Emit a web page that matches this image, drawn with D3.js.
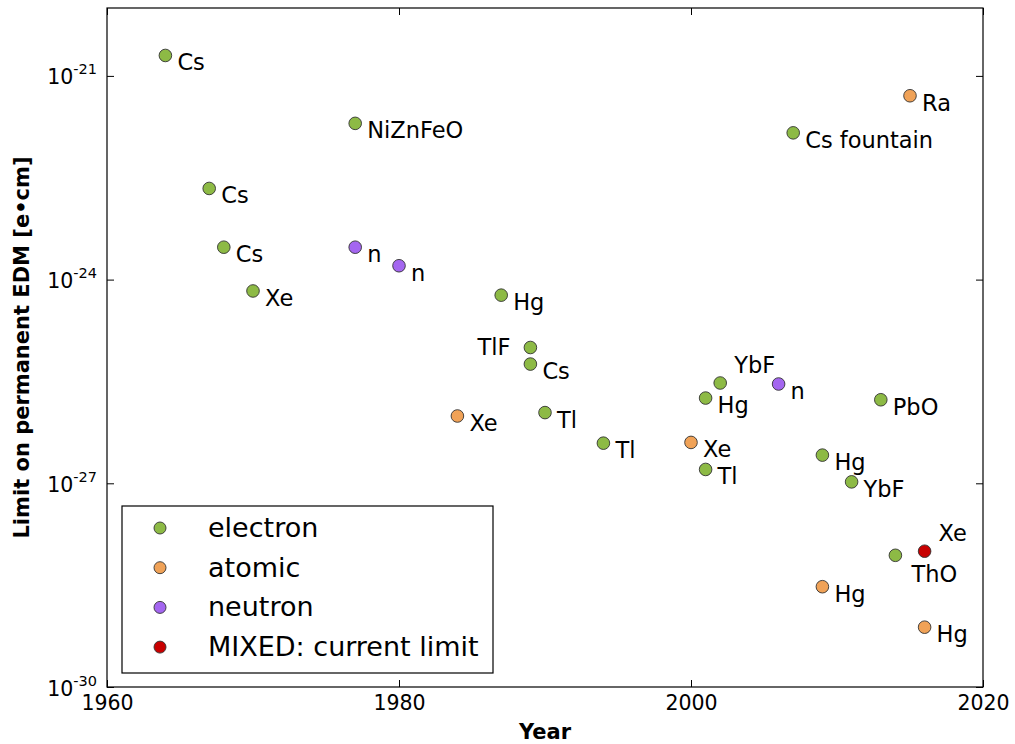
<!DOCTYPE html>
<html>
<head>
<meta charset="utf-8">
<script src="https://cdn.jsdelivr.net/npm/d3@7"></script>
<style>
  body { margin: 0; background: #fff; }
  text { font-family: "DejaVu Sans", sans-serif; fill: #000; }
</style>
</head>
<body>
<div class="chart"></div>
<script>
// Data: year, EDM limit [e*cm], label
const electron = [
  [1964, 2.0e-21, "Cs"],
  [1967, 2.2e-23, "Cs"],
  [1968, 3.0e-24, "Cs"],
  [1970, 6.8e-25, "Xe"],
  [1977, 2.0e-22, "NiZnFeO"],
  [1987, 5.9e-25, "Hg"],
  [1989, 1.0e-25, "TlF"],
  [1989, 5.7e-26, "Cs"],
  [1990, 1.1e-26, "Tl"],
  [1994, 3.9e-27, "Tl"],
  [2001, 1.8e-26, "Hg"],
  [2001, 1.6e-27, "Tl"],
  [2002, 3.0e-26, "YbF"],
  [2007, 1.45e-22, "Cs fountain"],
  [2009, 2.6e-27, "Hg"],
  [2011, 1.05e-27, "YbF"],
  [2013, 1.7e-26, "PbO"],
  [2014, 8.7e-29, "ThO"]
];
const atomic = [
  [1984, 9.8e-27, "Xe"],
  [2000, 4.0e-27, "Xe"],
  [2009, 3.0e-29, "Hg"],
  [2015, 5.1e-22, "Ra"],
  [2016, 7.6e-30, "Hg"]
];
const neutron = [
  [1977, 3.0e-24, "n"],
  [1980, 1.6e-24, "n"],
  [2006, 2.9e-26, "n"]
];
const mixed = [
  [2016, 1.0e-28, "Xe"]
];
const seriesNames = ["electron", "atomic", "neutron", "MIXED: current limit"];
const xTicks = [1960, 1980, 2000, 2020];
const yTickExps = [-21, -24, -27, -30];

// Styling
const colors = ["#8dba45", "#f0a257", "#a466f0", "#c80000"];
const series = [electron, atomic, neutron, mixed];

// label placement overrides, keyed "series:index"
const placement = {
  "0:6": "left",   // TlF
  "0:12": "above", // YbF 2002
  "0:17": "below", // ThO
  "3:0": "above"   // Xe current limit
};

const w = 1015;
const h = 744;
const margin = { top: 8, right: 32, bottom: 57, left: 107 };

const svg = d3
  .select(".chart")
  .append("svg")
  .attr("width", w)
  .attr("height", h);

// Scales
const xScale = d3
  .scaleLinear()
  .domain([1960, 2020])
  .range([margin.left, w - margin.right]);

const yScale = d3
  .scaleLog()
  .domain([1e-30, 1e-20])
  .range([h - margin.bottom, margin.top]);

const tick = 7;

// Axes (ticks point inward, mirrored on all sides)
const xAxis = svg
  .append("g")
  .attr("transform", `translate(0, ${h - margin.bottom})`)
  .call(
    d3.axisBottom(xScale)
      .tickValues(xTicks)
      .tickSizeInner(-tick)
      .tickSizeOuter(0)
      .tickPadding(8)
      .tickFormat(d3.format("d"))
  );
xAxis.selectAll("text").style("font-size", "20.5px").attr("font-family", null);

svg
  .append("g")
  .attr("transform", `translate(0, ${margin.top})`)
  .call(d3.axisTop(xScale).tickValues(xTicks).tickSizeInner(-tick).tickSizeOuter(0).tickFormat(""));

const yTickVals = yTickExps.map((e) => Math.pow(10, e));
const yAxis = svg
  .append("g")
  .attr("transform", `translate(${margin.left}, 0)`)
  .call(
    d3.axisLeft(yScale)
      .tickValues(yTickVals)
      .tickSizeInner(-tick)
      .tickSizeOuter(0)
      .tickPadding(10)
      .tickFormat("")
  );

yAxis
  .selectAll(".tick text")
  .attr("dy", "8px")
  .style("font-size", "20.5px")
  .attr("font-family", null)
  .each(function (d, i) {
    const t = d3.select(this);
    t.append("tspan").text("10");
    t.append("tspan")
      .attr("dy", "-10px")
      .style("font-size", "14.5px")
      .text(yTickExps[i]);
  });

svg
  .append("g")
  .attr("transform", `translate(${w - margin.right}, 0)`)
  .call(d3.axisRight(yScale).tickValues(yTickVals).tickSizeInner(-tick).tickSizeOuter(0).tickFormat(""));

svg.selectAll(".domain").remove();
svg.selectAll(".tick line").attr("stroke", "#000").attr("stroke-width", 1);

// Frame
svg
  .append("rect")
  .attr("x", margin.left)
  .attr("y", margin.top)
  .attr("width", w - margin.left - margin.right)
  .attr("height", h - margin.top - margin.bottom)
  .attr("fill", "none")
  .attr("stroke", "#000")
  .attr("stroke-width", 1.2);

// Axis titles
svg
  .append("text")
  .text("Year")
  .attr("text-anchor", "middle")
  .attr("x", (margin.left + w - margin.right) / 2)
  .attr("y", 739)
  .style("font-size", "21px")
  .style("font-weight", "bold");

svg
  .append("text")
  .text("Limit on permanent EDM [e\u2022cm]")
  .attr("text-anchor", "middle")
  .attr("transform", `translate(29, ${(margin.top + h - margin.bottom) / 2}) rotate(-90)`)
  .style("font-size", "21px")
  .style("font-weight", "bold");

// Points and labels
const labelOffset = {
  right: { dx: 12, dy: 15, anchor: "start" },
  left: { dx: -20, dy: 7, anchor: "end" },
  above: { dx: 14, dy: -10, anchor: "start" },
  below: { dx: 16, dy: 27, anchor: "start" }
};

series.forEach((data, si) => {
  const g = svg.append("g");
  g.selectAll("circle")
    .data(data)
    .enter()
    .append("circle")
    .attr("cx", (d) => xScale(d[0]))
    .attr("cy", (d) => yScale(d[1]))
    .attr("r", 6.3)
    .attr("fill", colors[si])
    .attr("stroke", "#333")
    .attr("stroke-width", 0.9);

  g.selectAll("text")
    .data(data)
    .enter()
    .append("text")
    .text((d) => d[2])
    .each(function (d, i) {
      const o = labelOffset[placement[`${si}:${i}`] || "right"];
      d3.select(this)
        .attr("x", xScale(d[0]) + o.dx)
        .attr("y", yScale(d[1]) + o.dy)
        .attr("text-anchor", o.anchor);
    })
    .style("font-size", "22.5px");
});

// Legend
const legend = svg.append("g").attr("transform", "translate(122, 506)");

legend
  .append("rect")
  .attr("width", 371)
  .attr("height", 167)
  .attr("fill", "#fff")
  .attr("stroke", "#000")
  .attr("stroke-width", 1.2);

const rows = legend
  .selectAll(".row")
  .data(seriesNames)
  .enter()
  .append("g")
  .attr("transform", (d, i) => `translate(0, ${22 + i * 39.7})`);

rows
  .append("circle")
  .attr("cx", 38)
  .attr("r", 6)
  .attr("fill", (d, i) => colors[i])
  .attr("stroke", "#333")
  .attr("stroke-width", 0.9);

rows
  .append("text")
  .text((d) => d)
  .attr("x", 86)
  .attr("y", 9)
  .style("font-size", "27px");
</script>
</body>
</html>
